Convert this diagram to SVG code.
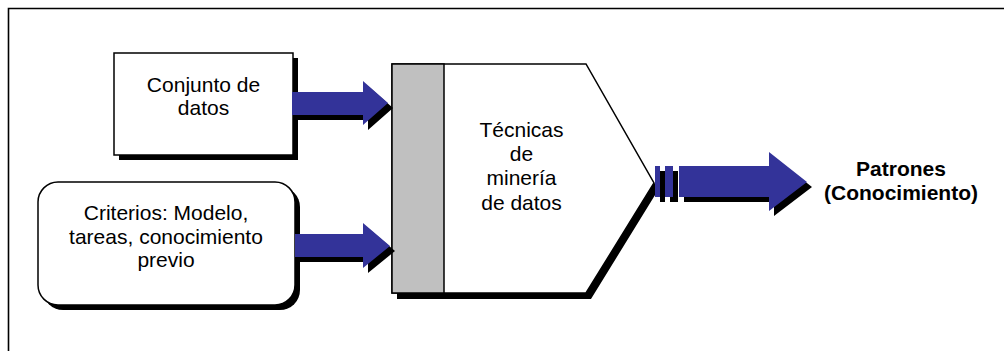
<svg xmlns="http://www.w3.org/2000/svg" width="1004" height="351" viewBox="0 0 1004 351">
<style>
.t{font-family:"Liberation Sans",Arial,sans-serif;font-size:21px;fill:#000;text-anchor:middle}
.b{font-weight:bold}
.box{fill:#fff;stroke:#000;stroke-width:1.5}
.sh{fill:#000}
.ar{fill:#333399}
</style>
<polyline points="8.5,351 8.5,8.5 1004,8.5" fill="none" stroke="#000" stroke-width="1.6"/>
<g id="node-datos">
<rect class="sh" x="119" y="58" width="179" height="102"/>
<rect class="box" x="114" y="53" width="179" height="102"/>
<text class="t" x="203.5" y="92">Conjunto de</text>
<text class="t" x="203.5" y="115">datos</text>
</g>
<g id="node-criterios">
<rect class="sh" x="43" y="187" width="257" height="123" rx="20"/>
<rect class="box" x="38" y="182" width="257" height="123" rx="20"/>
<text class="t" x="166" y="220">Criterios: Modelo,</text>
<text class="t" x="166" y="244">tareas, conocimiento</text>
<text class="t" x="166" y="267">previo</text>
</g>
<g id="node-tecnicas">
<polygon class="sh" points="654,183 660,187 591,299 397,299 397,293 586,293"/>
<polygon class="box" points="392,64 586,64 654,183 586,293 392,293"/>
<rect x="392" y="64" width="52" height="229" fill="#c0c0c0" stroke="#000" stroke-width="1.5"/>
<text class="t" x="521.5" y="137">Técnicas</text>
<text class="t" x="521.5" y="161">de</text>
<text class="t" x="521.5" y="185">minería</text>
<text class="t" x="521.5" y="210">de datos</text>
</g>
<g id="node-patrones">
<text class="t b" x="901" y="176">Patrones</text>
<text class="t b" x="901" y="200">(Conocimiento)</text>
</g>
<g id="connectors">
<polygon class="sh" points="297,97 368,97 368,86 393,108 368,130 368,120 297,120"/>
<polygon class="ar" points="292,92 363,92 363,81 388,103 363,125 363,115 292,115"/>
<polygon class="sh" points="300,239 368,239 368,228 395,251 368,273 368,262 300,262"/>
<polygon class="ar" points="295,234 363,234 363,223 390,246 363,268 363,257 295,257"/>
<rect class="sh" x="660" y="171" width="5" height="31"/>
<rect class="sh" x="670" y="171" width="8" height="31"/>
<polygon class="sh" points="684,171 774,171 774,157 812,187 774,216 774,202 684,202"/>
<rect class="ar" x="655" y="166" width="5" height="31"/>
<rect class="ar" x="665" y="166" width="8" height="31"/>
<polygon class="ar" points="679,166 769,166 769,152 807,182 769,211 769,197 679,197"/>
</g>
</svg>
